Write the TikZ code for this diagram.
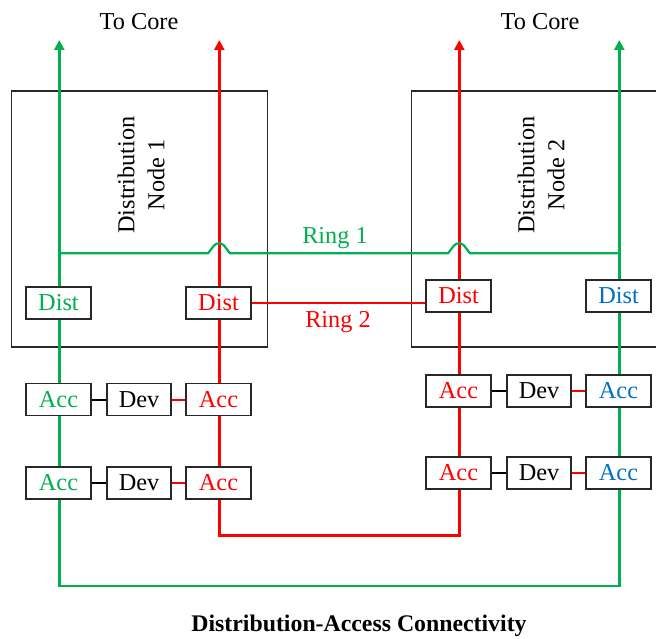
\documentclass[tikz,border=0pt]{standalone}
\usepackage{fontspec}
\setmainfont{Liberation Serif}
\usetikzlibrary{arrows.meta}
\definecolor{cgreen}{RGB}{0,176,80}
\definecolor{cred}{RGB}{255,0,0}
\definecolor{cblue}{RGB}{0,112,192}
\definecolor{cbox}{RGB}{40,40,40}
\pgfdeclarelayer{back}
\pgfdeclarelayer{mid}
\pgfsetlayers{back,mid,main}
\tikzset{
  bigbox/.style={draw=cbox, line width=1.7pt, fill=white, minimum width=256pt, minimum height=256pt, inner sep=0pt, anchor=north west},
  smallbox/.style={draw=cbox, line width=1.7pt, fill=white, minimum width=64.5pt, minimum height=32pt, inner sep=0pt, font=\fontsize{24.3}{28}\selectfont},
  gline/.style={draw=cgreen, line width=2.6pt},
  rline/.style={draw=cred, line width=2.6pt},
  kline/.style={draw=black, line width=2pt},
  rlink/.style={draw=cred, line width=2pt},
  uparrow/.style={-{Triangle[length=10pt,width=10pt]}},
  lbl/.style={font=\fontsize{24.3}{30}\selectfont, inner sep=0pt},
}
\begin{document}
\begin{tikzpicture}[x=1pt,y=-1pt]
\clip (0,0) rectangle (656,639);
\useasboundingbox (0,0) rectangle (656,639);
% big boxes
\begin{pgfonlayer}{back}
\node[bigbox] (dn1) at (10.7,90) {};
\node[bigbox] (dn2) at (410.7,90) {};
\end{pgfonlayer}
\node[lbl, rotate=90, align=center] (dn1t) at (141,175) {Distribution\\Node 1};
\node[lbl, rotate=90, align=center] (dn2t) at (541,175) {Distribution\\Node 2};
% labels
\node[lbl] (tc1) at (139,22) {To Core};
\node[lbl] (tc2) at (540,22) {To Core};
\node[lbl, text=cgreen] (ring1) at (335,238) {Ring 1};
\node[lbl, text=cred] (ring2) at (338,322) {Ring 2};
\node[lbl, font=\fontsize{23.8}{28}\selectfont\bfseries] (title) at (359,626) {Distribution-Access Connectivity};
% dist boxes
\node[smallbox, text=cgreen] (distg) at (58.5,303) {Dist};
\node[smallbox, text=cred] (distr) at (218.5,303) {Dist};
\node[smallbox, text=cred] (rdistr) at (458.5,296) {Dist};
\node[smallbox, text=cblue] (rdistb) at (618.5,296) {Dist};
% left access rows
\node[smallbox, text=cgreen] (acc1g) at (58.5,399.5) {Acc};
\node[smallbox] (dev1) at (139,399.5) {Dev};
\node[smallbox, text=cred] (acc1r) at (218.5,399.5) {Acc};
\node[smallbox, text=cgreen] (acc2g) at (58.5,483) {Acc};
\node[smallbox] (dev2) at (139,483) {Dev};
\node[smallbox, text=cred] (acc2r) at (218.5,483) {Acc};
% right access rows
\node[smallbox, text=cred] (racc1r) at (458.5,391) {Acc};
\node[smallbox] (rdev1) at (539,391) {Dev};
\node[smallbox, text=cblue] (racc1b) at (618.5,391) {Acc};
\node[smallbox, text=cred] (racc2r) at (458.5,473) {Acc};
\node[smallbox] (rdev2) at (539,473) {Dev};
\node[smallbox, text=cblue] (racc2b) at (618.5,473) {Acc};
% free coordinates
\coordinate (gtl) at (59.3,40);
\coordinate (rtl) at (219.3,40);
\coordinate (rtr) at (459.3,40);
\coordinate (gtr) at (619.3,40);
\coordinate (gbl) at (59.3,586);
\coordinate (gbr) at (619.3,586);
\coordinate (rbl) at (219.3,535.7);
\coordinate (rbr) at (459.3,535.7);
\coordinate (r1a) at (59.3,253.3);
\coordinate (r1b) at (619.3,253.3);
\begin{pgfonlayer}{mid}
% green left
\draw[gline] (gbl) -- (acc2g.south -| gbl);
\draw[gline] (acc2g.north -| gbl) -- (acc1g.south -| gbl);
\draw[gline] (acc1g.north -| gbl) -- (distg.south -| gbl);
\draw[gline, uparrow] (distg.north -| gbl) -- (gtl);
% red left
\draw[rline] (acc2r.north -| rbl) -- (acc1r.south -| rbl);
\draw[rline] (acc1r.north -| rbl) -- (distr.south -| rbl);
\draw[rline, uparrow] (distr.north -| rbl) -- (rtl);
% red right
\draw[rline] (racc2r.north -| rbr) -- (racc1r.south -| rbr);
\draw[rline] (racc1r.north -| rbr) -- (rdistr.south -| rbr);
\draw[rline, uparrow] (rdistr.north -| rbr) -- (rtr);
% green right
\draw[gline] (gbr) -- (racc2b.south -| gbr);
\draw[gline] (racc2b.north -| gbr) -- (racc1b.south -| gbr);
\draw[gline] (racc1b.north -| gbr) -- (rdistb.south -| gbr);
\draw[gline, uparrow] (rdistb.north -| gbr) -- (gtr);
% bottom loops
\draw[rline] (acc2r.south -| rbl) -- (rbl) -- (rbr) -- (racc2r.south -| rbr);
\draw[gline] (acc2g.south -| gbl) -- (gbl) -- (gbr) -- (racc2b.south -| gbr);
% ring 1 with jumps
\draw[gline, line width=2.2pt] (r1a) -- (208,253.3) -- (214,245.5)
  .. controls (216.5,242.5) and (221.5,242.5) .. (224,245.5) -- (230,253.3)
  -- (448,253.3) -- (454,245.5)
  .. controls (456.5,242.5) and (461.5,242.5) .. (464,245.5) -- (470,253.3)
  -- (r1b);
% ring 2
\draw[rline, line width=2.2pt] (distr.east) -- (distr.east -| rdistr.west);
% acc-dev links
\draw[kline] (acc1g.east) -- (dev1.west);
\draw[rlink] (dev1.east) -- (acc1r.west);
\draw[kline] (acc2g.east) -- (dev2.west);
\draw[rlink] (dev2.east) -- (acc2r.west);
\draw[kline] (racc1r.east) -- (rdev1.west);
\draw[rlink] (rdev1.east) -- (racc1b.west);
\draw[kline] (racc2r.east) -- (rdev2.west);
\draw[rlink] (rdev2.east) -- (racc2b.west);
\end{pgfonlayer}
\end{tikzpicture}
\end{document}
